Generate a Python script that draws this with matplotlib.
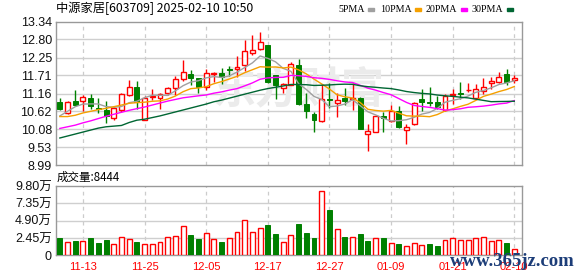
import numpy as np
import pandas as pd
import matplotlib
matplotlib.use("Agg")
import matplotlib.pyplot as plt
import matplotlib.patches as mpatches

# --- data --------------------------------------------------------------
dates = ['11-08', '11-11', '11-12', '11-13', '11-14', '11-15', '11-18', '11-19', '11-20', '11-21',
         '11-22', '11-25', '11-26', '11-27', '11-28', '11-29', '12-02', '12-03', '12-04', '12-05',
         '12-06', '12-09', '12-10', '12-11', '12-12', '12-13', '12-16', '12-17', '12-18', '12-19',
         '12-20', '12-23', '12-24', '12-25', '12-26', '12-27', '12-30', '12-31', '01-02', '01-03',
         '01-06', '01-07', '01-08', '01-09', '01-10', '01-13', '01-14', '01-15', '01-16', '01-17',
         '01-20', '01-21', '01-22', '01-23', '01-24', '01-27', '02-05', '02-06', '02-07', '02-10']

opens = [10.89, 10.57, 10.92, 10.94, 11.02, 10.72, 10.66, 10.41, 10.67, 11.12,
         11.36, 10.36, 11.04, 11.03, 11.18, 11.33, 11.59, 11.74, 11.62, 11.37,
         11.75, 11.77, 11.91, 11.90, 12.04, 12.39, 12.52, 12.64, 11.73, 11.34,
         11.41, 12.02, 10.84, 10.54, 10.34, 10.99, 10.86, 11.03, 10.99, 11.02,
         9.92, 9.99, 10.47, 10.34, 10.62, 10.04, 10.23, 10.99, 10.91, 10.89,
         10.66, 11.11, 11.19, 11.26, 11.01, 11.24, 11.49, 11.52, 11.74, 11.56]
highs = [11.02, 10.92, 11.27, 11.11, 11.16, 11.02, 10.92, 10.77, 11.17, 11.56,
         11.54, 11.09, 11.31, 11.19, 11.37, 11.68, 12.19, 11.87, 11.64, 11.89,
         11.82, 11.94, 11.99, 12.29, 12.79, 12.94, 13.02, 12.64, 11.73, 11.49,
         12.11, 12.22, 11.17, 10.59, 11.44, 11.47, 11.17, 11.34, 11.49, 11.06,
         10.24, 10.51, 10.61, 10.81, 10.77, 10.24, 10.89, 11.31, 11.37, 11.09,
         11.16, 11.29, 11.51, 11.47, 11.44, 11.64, 11.67, 11.81, 11.89, 11.71]
lows = [10.66, 10.54, 10.77, 10.64, 10.69, 10.57, 10.26, 10.36, 10.61, 11.09,
        10.69, 10.36, 10.97, 10.69, 11.12, 11.11, 11.55, 11.41, 11.19, 11.27,
        11.51, 11.44, 11.69, 11.67, 11.84, 12.34, 12.49, 11.49, 10.99, 11.17,
        11.41, 10.81, 10.41, 9.98, 10.29, 10.71, 10.46, 10.81, 10.67, 10.07,
        9.41, 9.99, 9.98, 10.30, 10.11, 9.64, 10.21, 10.64, 10.77, 10.69,
        10.64, 10.84, 10.99, 11.21, 10.99, 11.14, 11.29, 11.49, 11.41, 11.49]
closes = [10.69, 10.89, 10.81, 11.04, 10.79, 10.68, 10.49, 10.71, 11.16, 11.37,
          10.89, 11.03, 11.09, 11.16, 11.34, 11.59, 11.81, 11.64, 11.37, 11.77,
          11.78, 11.67, 11.88, 11.95, 12.46, 12.49, 12.72, 11.52, 11.42, 11.46,
          12.05, 10.84, 10.64, 10.37, 10.99, 10.95, 10.96, 10.93, 11.03, 10.09,
          10.01, 10.49, 10.42, 10.62, 10.14, 10.15, 10.86, 10.91, 10.87, 10.74,
          11.09, 11.15, 11.16, 11.28, 11.30, 11.37, 11.55, 11.67, 11.51, 11.64]

# volume in 万 (last bar = 8444)
volumes = [2.45, 1.84, 2.03, 2.03, 2.45, 1.74, 2.17, 1.55, 2.54, 2.26,
           1.88, 1.60, 1.55, 1.84, 2.54, 2.69, 4.10, 2.87, 2.31, 3.11,
           2.26, 1.88, 2.40, 3.30, 4.99, 3.25, 3.82, 4.29, 3.02, 1.84,
           2.88, 4.43, 3.16, 2.45, 9.10, 6.41, 3.72, 2.59, 2.59, 3.02,
           2.03, 2.45, 2.50, 1.70, 1.60, 1.32, 1.70, 1.46, 1.60, 1.32,
           2.17, 2.40, 2.17, 2.17, 2.40, 2.55, 2.03, 2.17, 1.70, 0.8444]

# moving-average values before a full window exists
ma5_head = [10.48, 10.62, 10.76, 10.84]
ma10_head = [10.46, 10.46, 10.50, 10.57, 10.62, 10.67, 10.71, 10.76, 10.81]
ma20_head = [10.10, 10.15, 10.20, 10.27, 10.33, 10.40, 10.47, 10.53, 10.59, 10.65,
             10.70, 10.75, 10.81, 10.87, 10.93, 10.98, 11.03, 11.06, 11.09]
ma30_head = [9.81, 9.87, 9.93, 9.99, 10.05, 10.11, 10.15, 10.17, 10.19, 10.28,
             10.35, 10.38, 10.43, 10.48, 10.54, 10.60, 10.66, 10.72, 10.78, 10.84,
             10.91, 10.96, 11.02, 11.08, 11.14, 11.20, 11.26, 11.31, 11.35]

price_ticks = [8.99, 9.53, 10.08, 10.62, 11.16, 11.71, 12.25, 12.80, 13.34]
vol_ticks = [0, 2.45, 4.90, 7.35, 9.80]
vol_tick_labels = ['0', '2.45万', '4.90万', '7.35万', '9.80万']

# --- styling -------------------------------------------------------------
RED = '#ff0000'
GREEN = '#008000'
MA_COLORS = {'5PMA': '#a0a0a0', '10PMA': '#f5a000', '20PMA': '#ff00ff', '30PMA': '#006633'}
CJK = ['Noto Sans CJK SC', 'DejaVu Sans']
NUM = ['Liberation Sans', 'Noto Sans CJK SC']

W, H = 578, 276
fig = plt.figure(figsize=(W / 100, H / 100), dpi=100, facecolor='white')


def px_axes(left, top, right, bottom):
    return fig.add_axes([left / W, 1 - bottom / H, (right - left) / W, (bottom - top) / H])


def moving_avg(n, head):
    ma = pd.Series(closes).rolling(n).mean().to_numpy()
    ma[:n - 1] = head
    return ma


x = np.arange(len(closes))
o, h, l, c = map(np.array, (opens, highs, lows, closes))
up = c >= o
vol_up = np.r_[False, np.diff(c) >= 0]
tick_idx = x[3::8]

ax = px_axes(56, 21.7, 522, 165)
axv = px_axes(56, 186, 522, 255.3)

for a in (ax, axv):
    a.set_xlim(-0.5, 60)
    a.set_facecolor('white')
    for s in a.spines.values():
        s.set_color('#999999')
        s.set_linewidth(1)
    a.tick_params(length=0)
    for t in tick_idx:
        a.axvline(t, color='#cccccc', lw=0.9, ls=(0, (3, 3)), zorder=1)

# --- price panel --------------------------------------------------------
ax.set_ylim(price_ticks[0], price_ticks[-1])
ax.set_yticks(price_ticks)
ax.set_yticklabels([f'{v:.2f}' for v in price_ticks], family=NUM, fontsize=9, color='#111111')
ax.tick_params(axis='y', pad=3)
ax.set_xticks([])
for v in price_ticks[1:-1]:
    ax.axhline(v, color='#cfcfcf', lw=1, zorder=1)

ax.text(0.52, 0.52, '东方财富', transform=ax.transAxes, ha='center', va='center',
        family=CJK, fontsize=31, weight='bold', color='#ebebeb', zorder=1.5)

bw = 0.64
body_lo = np.minimum(o, c)
body_hi = np.maximum(o, c)
# wicks
ax.vlines(x[~up], l[~up], h[~up], color=GREEN, lw=1, zorder=3)
ax.vlines(x[up], l[up], body_lo[up], color=RED, lw=1, zorder=3)
ax.vlines(x[up], body_hi[up], h[up], color=RED, lw=1, zorder=3)
# bodies
ax.bar(x[~up], (body_hi - body_lo)[~up], bw, bottom=body_lo[~up], color=GREEN,
       edgecolor=GREEN, lw=0.7, zorder=3.2)
ax.bar(x[up], (body_hi - body_lo)[up], bw, bottom=body_lo[up], facecolor='white',
       edgecolor=RED, lw=1, zorder=3.2)

mas = {'5PMA': moving_avg(5, ma5_head), '10PMA': moving_avg(10, ma10_head),
       '20PMA': moving_avg(20, ma20_head), '30PMA': moving_avg(30, ma30_head)}
for name, vals in mas.items():
    ax.plot(x, vals, color=MA_COLORS[name], lw=1, zorder=4)

# --- volume panel -------------------------------------------------------
axv.set_ylim(vol_ticks[0], vol_ticks[-1])
axv.set_yticks(vol_ticks)
axv.set_yticklabels(vol_tick_labels, family=NUM, fontsize=9, color='#111111')
axv.tick_params(axis='y', pad=3)
for v in vol_ticks[1:-1]:
    axv.axhline(v, color='#cfcfcf', lw=1, zorder=1)
vol = np.array(volumes)
axv.bar(x[~vol_up], vol[~vol_up], bw, color=GREEN, edgecolor=GREEN, lw=0.7, zorder=3)
axv.bar(x[vol_up], vol[vol_up], bw, facecolor='white', edgecolor=RED, lw=1, zorder=3)
axv.set_xticks(tick_idx)
axv.set_xticklabels([dates[i] for i in tick_idx], family=NUM, fontsize=8, color=RED)
axv.tick_params(axis='x', pad=5)

# --- header texts -------------------------------------------------------
fig.text(56 / W, 1 - 8.5 / H, '中源家居[603709] 2025-02-10 10:50', family=CJK,
         fontsize=8.8, va='center', ha='left')
fig.text(57 / W, 1 - 177.5 / H, '成交量:8444', family=CJK, fontsize=8.3,
         va='center', ha='left')

# legend: label then a short colour dash just after it
renderer = fig.canvas.get_renderer()
legend_starts = {'5PMA': 338, '10PMA': 380, '20PMA': 426, '30PMA': 472}
for name, tx in legend_starts.items():
    t = fig.text(tx / W, 1 - 9 / H, name, family='Liberation Serif', fontsize=7.2,
                 va='center', ha='left')
    x_end = t.get_window_extent(renderer).x1
    fig.patches.append(mpatches.Rectangle(((x_end + 3) / W, 1 - 10.7 / H), 6 / W, 2.6 / H,
                                          transform=fig.transFigure, color=MA_COLORS[name]))

# site watermark, drawn over the date labels as in the source image
fig.text(512 / W, 1 - 261 / H, 'www.365jz.com', family='Liberation Serif', weight='bold',
         fontsize=13.5, color='#1c3d78', va='center', ha='center', zorder=10)

fig.savefig('out.png', dpi=100, facecolor='white')
